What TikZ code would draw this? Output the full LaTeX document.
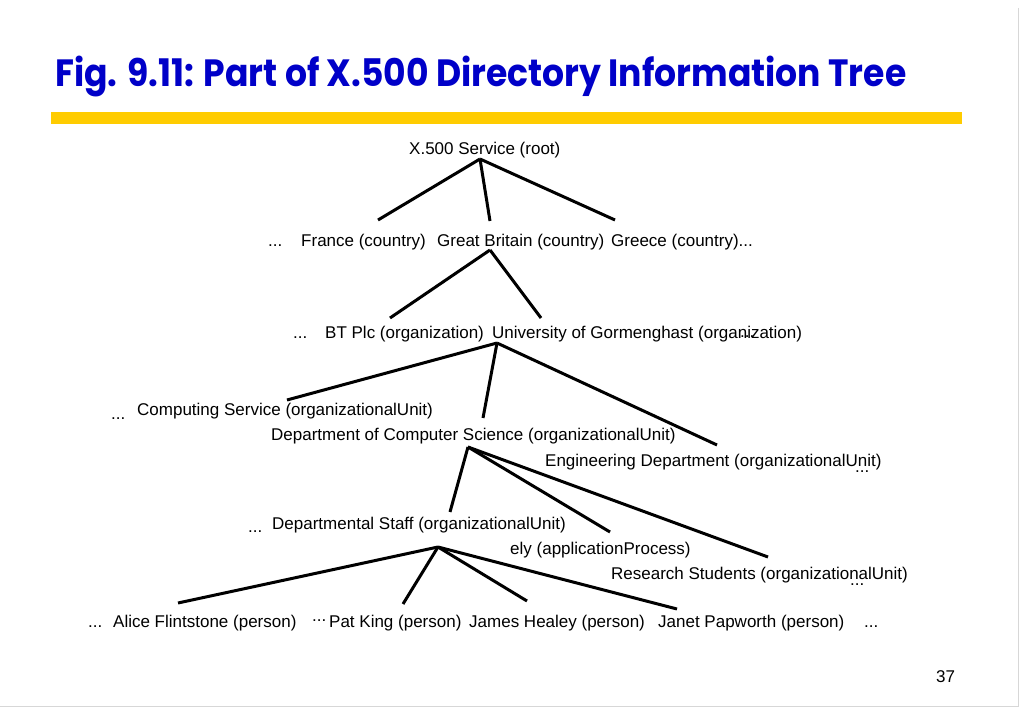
\documentclass[tikz,border=0pt]{standalone}
\usepackage{fontspec}
\setmainfont{Liberation Sans}
\newfontfamily\titlefont{Poppins}
\usepackage{tikz}
\usetikzlibrary{positioning}

\definecolor{titleblue}{RGB}{0,0,200}
\definecolor{baryellow}{RGB}{255,204,0}
\definecolor{framegray}{RGB}{215,215,215}

\tikzset{
	entry/.style={anchor=base west, inner sep=0pt, font=\fontsize{17}{20}\selectfont},
	branch/.style={line width=3pt, line cap=butt}
}

\begin{document}
\begin{tikzpicture}[x=1pt, y=-1pt]
	\useasboundingbox (0,0) rectangle (1023,708);
	\fill[white] (0,0) rectangle (1023,708);
	% frame and title
	\draw[framegray, line width=1pt] (1018,8) -- (1018,706) -- (0,706);
	\node[anchor=base west, inner sep=0pt, text=titleblue, font=\titlefont\bfseries\fontsize{38}{40}\selectfont] (title) at (55,87) {\scalebox{0.91}[1]{Fig. 9.11: Part of X.500 Directory Information Tree}};
	\fill[baryellow] (51,112) rectangle (962,124);

	% root
	\node[entry] (root) at (409,155) {X.500 Service (root)};
	% countries
	\node[entry] (dotsc) at (268,247) {...};
	\node[entry] (france) at (301,247) {France (country)};
	\node[entry] (gb) at (437,247) {Great Britain (country)};
	\node[entry] (greece) at (611,247) {Greece (country)...};
	% organizations
	\node[entry] (dotso) at (293,339) {...};
	\node[entry] (bt) at (325,339) {BT Plc (organization)};
	\node[entry] (uni) at (492,339) {University of Gormenghast (organization)};
	\node[entry] (dotsu) at (740,338) {...};
	% units
	\node[entry] (dotscs) at (111,420) {...};
	\node[entry] (cs) at (137,416) {Computing Service (organizationalUnit)};
	\node[entry] (dcs) at (271,441) {Department of Computer Science (organizationalUnit)};
	\node[entry] (eng) at (545,466) {Engineering Department (organizationalUnit)};
	\node[entry] (dotse) at (855,472) {...};
	% below computer science
	\node[entry] (dotsds) at (248,532) {...};
	\node[entry] (ds) at (272,529) {Departmental Staff (organizationalUnit)};
	\node[entry] (ely) at (510,554) {ely (applicationProcess)};
	\node[entry] (rs) at (611,579) {Research Students (organizationalUnit)};
	\node[entry] (dotsrs) at (850,585) {...};
	% persons
	\node[entry] (dotsp) at (88,627) {...};
	\node[entry] (alice) at (113,627) {Alice Flintstone (person)};
	\node[entry] (dotspk) at (312,621) {...};
	\node[entry] (pat) at (329,627) {Pat King (person)};
	\node[entry] (james) at (469,627) {James Healey (person)};
	\node[entry] (janet) at (658,627) {Janet Papworth (person)};
	\node[entry] (dotsend) at (864,627) {...};
	% page number
	\node[entry] (page) at (936,682) {37};

	% attach points
	\coordinate (root-s) at (480,159);
	\coordinate (france-n) at (378,220);
	\coordinate (gb-n) at (490,221);
	\coordinate (greece-n) at (615,220);
	\coordinate (gb-s) at (490,250);
	\coordinate (bt-n) at (390,318);
	\coordinate (uni-n) at (541,318);
	\coordinate (uni-s) at (497,343);
	\coordinate (cs-n) at (287,400);
	\coordinate (dcs-n) at (483,418);
	\coordinate (eng-n) at (717,445);
	\coordinate (dcs-s) at (468,447);
	\coordinate (ds-n) at (450,512);
	\coordinate (ely-n) at (610,532);
	\coordinate (rs-n) at (768,557);
	\coordinate (ds-s) at (438,547);
	\coordinate (alice-n) at (178,603);
	\coordinate (pat-n) at (403,604);
	\coordinate (james-n) at (527,601);
	\coordinate (janet-n) at (677,609);

	% branches
	\foreach \a/\b in {root-s/france-n, root-s/gb-n, root-s/greece-n,
		gb-s/bt-n, gb-s/uni-n,
		uni-s/cs-n, uni-s/dcs-n, uni-s/eng-n,
		dcs-s/ds-n, dcs-s/ely-n, dcs-s/rs-n,
		ds-s/alice-n, ds-s/pat-n, ds-s/james-n, ds-s/janet-n}
		\draw[branch] (\a) -- (\b);
\end{tikzpicture}
\end{document}
